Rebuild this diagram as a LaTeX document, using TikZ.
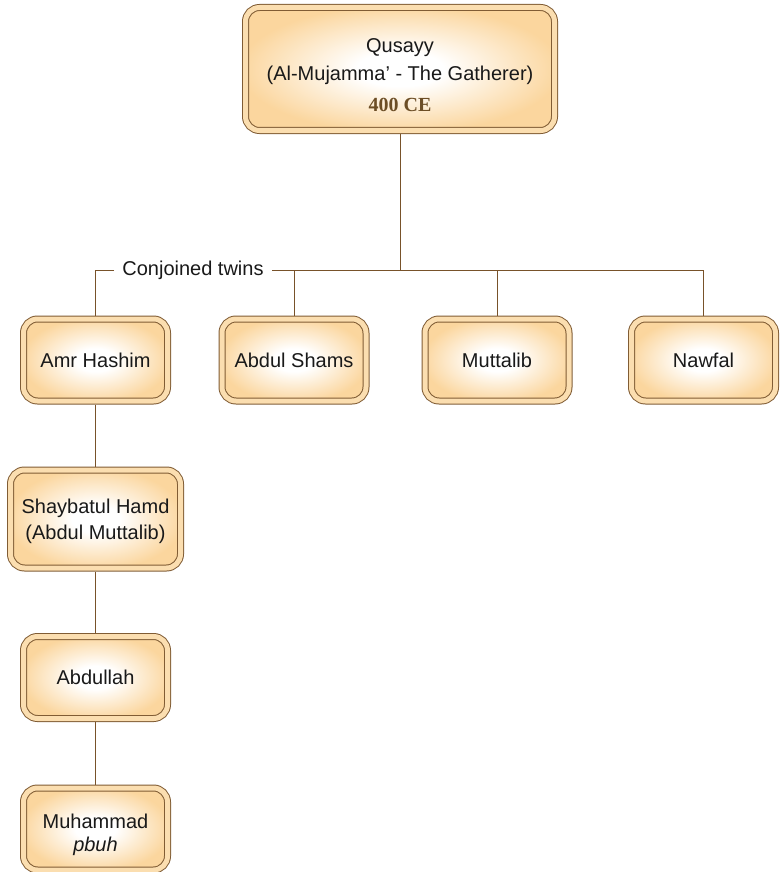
\documentclass[tikz,border=0pt]{standalone}
\usepackage{fontspec}
\setmainfont{Liberation Sans}
\newfontfamily\datefont{Liberation Serif}
\usepackage{tikz}
\definecolor{boxline}{RGB}{128,92,52}
\definecolor{boxedge}{RGB}{251,214,158}
\definecolor{boxband}{RGB}{251,222,176}
\definecolor{treeline}{RGB}{120,82,42}
\definecolor{datebrown}{RGB}{108,78,38}
\definecolor{inktext}{RGB}{25,25,25}
\pgfdeclareradialshading{famglow}{\pgfpoint{0bp}{0bp}}{color(0bp)=(white); color(7bp)=(white); color(26bp)=(boxedge); color(50bp)=(boxedge)}

\tikzset{
  famnode/.style={rounded corners=14pt, draw=boxline, line width=1pt,
    double=boxband, double distance=5pt, shading=famglow,
    outer sep=3.5pt, align=center, text=inktext,
    font=\fontsize{20}{26}\selectfont, minimum width=144pt, minimum height=82pt},
  treelink/.style={draw=treeline, line width=0.8pt}
}

\begin{document}
\begin{tikzpicture}[x=1pt, y=-1pt]
  \useasboundingbox (0,0) rectangle (779,872);
  \node[famnode, minimum width=309pt, minimum height=123pt, font=\fontsize{20}{28}\selectfont] (qusayy) at (400,69)
    {\rule{0pt}{26pt}Qusayy\\(Al-Mujamma' - The Gatherer)\\[3pt]{\datefont\fontsize{20}{28}\selectfont\bfseries\color{datebrown}400 CE}};
  \node[famnode] (hashim) at (95.5,360) {Amr Hashim};
  \node[famnode] (shams) at (294,360) {Abdul Shams};
  \node[famnode] (muttalib) at (497,360) {Muttalib};
  \node[famnode] (nawfal) at (703.5,360) {Nawfal};
  \node[famnode, minimum width=170pt, minimum height=98pt] (shaybah) at (95.5,519)
    {\rule{0pt}{20pt}Shaybatul Hamd\\(Abdul Muttalib)};
  \node[famnode] (abdullah) at (95.5,677.5) {Abdullah};
  \node[famnode, font=\fontsize{20}{23}\selectfont] (muhammad) at (95.5,829)
    {\rule{0pt}{26pt}Muhammad\\\itshape pbuh};

  \coordinate (bus) at (400,270);
  \node[text=inktext, font=\fontsize{20}{24}\selectfont, inner xsep=8pt, inner ysep=0pt] (twins) at (193,270) {Conjoined twins};

  \draw[treelink] (qusayy.south) -- (bus);
  \draw[treelink] (bus) -- (twins.east);
  \draw[treelink] (twins.west) -- (hashim.north |- twins) -- (hashim.north);
  \draw[treelink] (bus) -- (nawfal.north |- bus) -- (nawfal.north);
  \draw[treelink] (shams.north |- bus) -- (shams.north);
  \draw[treelink] (muttalib.north |- bus) -- (muttalib.north);
  \draw[treelink] (hashim.south) -- (shaybah.north);
  \draw[treelink] (shaybah.south) -- (abdullah.north);
  \draw[treelink] (abdullah.south) -- (muhammad.north);
\end{tikzpicture}
\end{document}
